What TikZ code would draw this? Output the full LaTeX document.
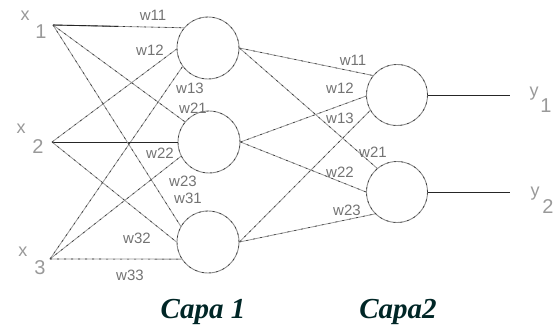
\documentclass[tikz,border=0pt]{standalone}
\usepackage{fontspec}
\setmainfont{Liberation Sans}
\newfontfamily\capafont{Liberation Serif}
\usetikzlibrary{calc}
\begin{document}
\begin{tikzpicture}[x=1pt,y=-1pt,
  grain/.style={postaction={draw=black!80,line width=0.6pt,dash pattern=on 2pt off 5pt}},
  neuron/.style={circle,draw=black!45,line width=0.9pt,minimum size=62pt,inner sep=0pt,grain},
  wire/.style={draw=black!40,line width=0.8pt,grain},
  strong/.style={draw=black!85,line width=0.9pt},
  wlab/.style={text=black!55,font=\fontsize{15}{15}\selectfont,inner sep=0pt},
  varlab/.style={text=black!40,font=\fontsize{18}{18}\selectfont,inner sep=0pt},
  idxlab/.style={text=black!40,font=\fontsize{20}{20}\selectfont,inner sep=0pt},
  capa/.style={text=black!70!teal,font=\capafont\bfseries\itshape\fontsize{29}{29}\selectfont,inner sep=0pt}]
\useasboundingbox (0,0) rectangle (558,331);

% hidden layer
\node[neuron] (h1) at (208,48) {};
\node[neuron] (h2) at (209,142) {};
\node[neuron] (h3) at (208,242) {};
% output layer
\node[neuron,minimum size=61pt] (o1) at (397,95) {};
\node[neuron,minimum size=61pt] (o2) at (397,192) {};

% inputs and outputs
\coordinate (x1) at (53,25);
\coordinate (x2) at (52,142);
\coordinate (x3) at (50,259);
\coordinate (y1) at (510,95);
\coordinate (y2) at (510,192);

% input -> hidden
\draw[wire] (x1) -- (h1.140);
\draw[strong] (x1) -- ($(x1)!0.5!(h1.140)$);
\draw[wire] (x2) -- (h1.182);
\draw[wire] (x3) -- (h1.216);
\draw[wire] (x1) -- (h2.140);
\draw[strong] (x2) -- (h2.west);
\draw[wire] (x3) -- (h2.207);
\draw[wire] (x1) -- (h3.150);
\draw[wire] (x2) -- (h3.180);
\draw[wire] (x3) -- (h3.213);

% hidden -> output
\draw[wire] (h1.east) -- (o1.141);
\draw[wire] (h1.east) -- (o2.130);
\draw[wire] (h2.east) -- (o1.182);
\draw[wire] (h2.east) -- (o2.180);
\draw[wire] (h3.east) -- (o1.210);
\draw[wire] (h3.east) -- (o2.225);

% outputs
\draw[strong] (o1.east) -- (y1);
\draw[strong] (o2.east) -- (y2);

% weight labels, first layer
\node[wlab] (w11a) at (153,15) {w11};
\node[wlab] (w12a) at (150,50) {w12};
\node[wlab] (w13a) at (190,88) {w13};
\node[wlab] (w21a) at (193,108) {w21};
\node[wlab] (w22a) at (160,153) {w22};
\node[wlab] (w23a) at (183,181) {w23};
\node[wlab] (w31a) at (188,198) {w31};
\node[wlab] (w32a) at (137,238) {w32};
\node[wlab] (w33a) at (130,275) {w33};

% weight labels, second layer
\node[wlab] (w11b) at (353,60) {w11};
\node[wlab] (w12b) at (340,88) {w12};
\node[wlab] (w13b) at (340,118) {w13};
\node[wlab] (w21b) at (373,152) {w21};
\node[wlab] (w22b) at (340,172) {w22};
\node[wlab] (w23b) at (347,210) {w23};

% variable names
\node[varlab] (x1v) at (25,16) {x};
\node[idxlab] (x1i) at (41,32) {1};
\node[varlab] (x2v) at (21,129) {x};
\node[idxlab] (x2i) at (38,147) {2};
\node[varlab] (x3v) at (23,252) {x};
\node[idxlab] (x3i) at (40,268) {3};
\node[varlab] (y1v) at (534,94) {y};
\node[idxlab] (y1i) at (546,106) {1};
\node[varlab] (y2v) at (535,194) {y};
\node[idxlab] (y2i) at (548,207) {2};

% layer captions
\node[capa] (c1) at (203,312) {Capa 1};
\node[capa] (c2) at (398,312) {Capa2};
\end{tikzpicture}
\end{document}
